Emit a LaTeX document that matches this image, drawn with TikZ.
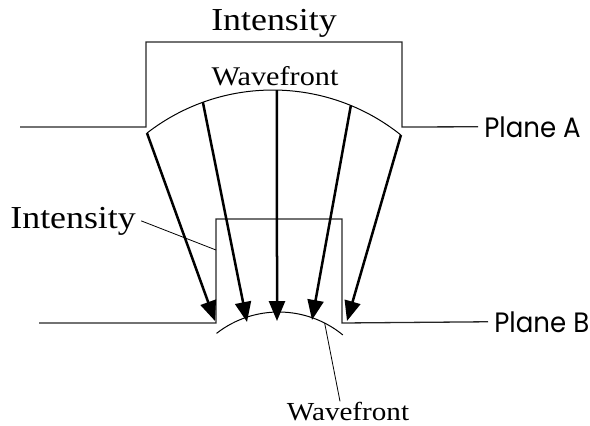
\documentclass[tikz,border=0pt]{standalone}
\usepackage{fontspec}
\usepackage{tikz}
\usetikzlibrary{arrows.meta}
\newfontfamily\labelfont[FakeStretch=1.12]{Liberation Serif}
\newfontfamily\planefont[FakeStretch=0.93]{Poppins}

\begin{document}
\begin{tikzpicture}[
      x=0.5pt, y=-0.5pt,
      pulse/.style={line width=0.65pt, black!85},
      front/.style={line width=0.5pt},
      ray/.style={-{Triangle[length=10pt,width=8pt]}, line width=1.25pt},
      lead/.style={line width=0.4pt},
      lbl/.style={font=\labelfont\fontsize{16}{18}\selectfont, inner ysep=0pt, inner xsep=2.5pt},
      plane/.style={font=\planefont\fontsize{14}{16}\selectfont, inner ysep=0pt, inner xsep=3pt, anchor=base west}
  ]
  \useasboundingbox (0,0) rectangle (590,425);

  % labels
  \node[lbl, anchor=base] (intA) at (274,30) {Intensity};
  \node[lbl, anchor=base, font=\labelfont\fontsize{13.5}{15}\selectfont] (waveA) at (275,85) {Wavefront};
  \node[plane] (planeA) at (478,137) {Plane A};
  \node[lbl, anchor=base west] (intB) at (5,228) {Intensity};
  \node[lbl, anchor=base, font=\labelfont\fontsize{13}{14}\selectfont] (waveB) at (348,420) {Wavefront};
  \node[plane] (planeB) at (488,332) {Plane B};

  % intensity profiles
  \draw[pulse] (20,127) -- (146,127) -- (146,42) -- (402,42) -- (402,127) -- (planeA.west);
  \draw[pulse] (39,323) -- (216,323) -- (216,219) -- (342,219) -- (342,323) -- (planeB.west);
  \coordinate (edgeB) at (216,250);

  % wavefronts
  \coordinate (cA) at (272.7,295.1);
  \coordinate (cB) at (278.7,413.2);
  \path (cA) ++(-127.8:205.1) coordinate (s1)
        (cA) ++(-109.9:205.1) coordinate (s2)
        (cA) ++(-88.8:205.1)  coordinate (s3)
        (cA) ++(-67.6:205.1)  coordinate (s4)
        (cA) ++(-51.3:205.1)  coordinate (s5);
  \path (cB) ++(-127.9:101.2) coordinate (b1)
        (cB) ++(-63:101.2)    coordinate (b2);
  \draw[front] (s1) arc[start angle=-127.8, end angle=-51.3, radius=205.1];
  \draw[front] (b1) arc[start angle=-127.9, end angle=-50.7, radius=101.2];

  % rays
  \coordinate (t1) at (215,321);
  \coordinate (t2) at (247,322);
  \coordinate (t3) at (277,321);
  \coordinate (t4) at (312,320);
  \coordinate (t5) at (347,321);
  \foreach \i in {1,...,5}
    \draw[ray] (s\i) -- (t\i);

  % leaders
  \draw[lead] (intB.east) -- (edgeB);
  \draw[lead] (b2) -- ([xshift=-4pt]waveB.north);
\end{tikzpicture}
\end{document}
